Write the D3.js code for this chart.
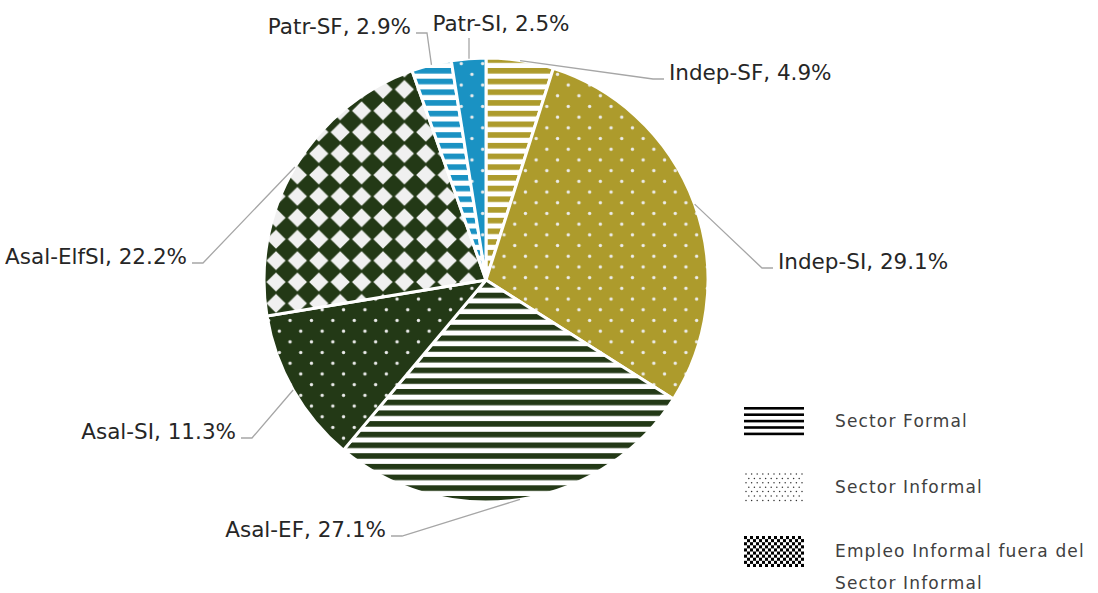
<!DOCTYPE html>
<html><head><meta charset="utf-8">
<script src="https://cdn.jsdelivr.net/npm/d3@7"></script>
<style>
html,body{margin:0;padding:0;background:#fff;}
svg{display:block;}
</style></head>
<body>
<svg id="chart" width="1098" height="593"></svg>
<script>
// ---- data ----
const categories = ["Indep-SF", "Indep-SI", "Asal-EF", "Asal-SI", "Asal-ElfSI", "Patr-SF", "Patr-SI"];
const values = [4.9, 29.1, 27.1, 11.3, 22.2, 2.9, 2.5];
const sectorType = ["formal", "informal", "formal", "informal", "fuera", "formal", "informal"];
const groupColor = ["olive", "olive", "green", "green", "green", "blue", "blue"];
const legendLabels = ["Sector Formal", "Sector Informal", ["Empleo Informal fuera del", "Sector Informal"]];

// ---- styles / layout ----
const palette = {olive: "#ad9b2c", green: "#233916", blue: "#1a92c3"};
const W = 1098, H = 593, cx = 486, cy = 280, R = 222;
const FONT = "'DejaVu Sans', sans-serif";
// elbow points for leader lines (layout only)
const labelLayout = [
  {ex: 653, ey: 79, side: "right"},
  {ex: 762, ey: 268, side: "right"},
  {ex: 402, ey: 536, side: "left"},
  {ex: 252, ey: 438, side: "left"},
  {ex: 203, ey: 263, side: "left"},
  {ex: 427, ey: 33, side: "left"},
  {ex: 469, ey: 38, side: "top", tx: 501, ty: 31}
];

const svg = d3.select("#chart");
const defs = svg.append("defs");
const P = 10.7; // pattern period

function stripes(id, color) {
  const p = defs.append("pattern").attr("id", id).attr("patternUnits", "userSpaceOnUse")
    .attr("width", 20).attr("height", P).attr("y", 2);
  p.append("rect").attr("width", 20).attr("height", P).attr("fill", "#fff");
  p.append("rect").attr("width", 20).attr("height", 5.6).attr("fill", color);
}
function dots(id, color) {
  const p = defs.append("pattern").attr("id", id).attr("patternUnits", "userSpaceOnUse")
    .attr("width", 2 * P).attr("height", 2 * P).attr("x", 2).attr("y", 3);
  p.append("rect").attr("width", 2 * P).attr("height", 2 * P).attr("fill", color);
  [[P / 2, P / 2], [P * 1.5, P * 1.5]].forEach(([x, y]) =>
    p.append("circle").attr("cx", x).attr("cy", y).attr("r", 1.7).attr("fill", "#ececec"));
}
function diamonds(id, color) {
  const S = 2 * P;
  const p = defs.append("pattern").attr("id", id).attr("patternUnits", "userSpaceOnUse")
    .attr("width", S).attr("height", S).attr("x", 4).attr("y", 2);
  p.append("rect").attr("width", S).attr("height", S).attr("fill", color);
  const d = 9.6;
  [[0, 0], [S, 0], [0, S], [S, S]].forEach(([x, y]) =>
    p.append("path").attr("d", `M${x},${y - d}L${x + d},${y}L${x},${y + d}L${x - d},${y}Z`).attr("fill", "#f0f0f0"));
}
categories.forEach((c, i) => {
  const id = "pat" + i, col = palette[groupColor[i]];
  if (sectorType[i] === "formal") stripes(id, col);
  else if (sectorType[i] === "informal") dots(id, col);
  else diamonds(id, col);
});

// ---- pie ----
const pie = d3.pie().sort(null).value(d => d.v);
const arcs = pie(categories.map((c, i) => ({c, v: values[i], i})));
const arc = d3.arc().innerRadius(0).outerRadius(R);
const g = svg.append("g").attr("transform", `translate(${cx},${cy})`);
g.selectAll("path.slice").data(arcs).join("path").attr("class", "slice")
  .attr("d", arc).attr("fill", d => `url(#pat${d.data.i})`)
  .attr("stroke", "#fff").attr("stroke-width", 3).attr("stroke-linejoin", "round");

// ---- labels with leader lines ----
const lab = svg.append("g");
arcs.forEach((a, i) => {
  const m = (a.startAngle + a.endAngle) / 2;
  const sx = cx + R * Math.sin(m), sy = cy - R * Math.cos(m);
  const L = labelLayout[i];
  let pts = [[sx, sy], [L.ex, L.ey]];
  let tx, ty, anchor;
  if (L.side === "right") { pts.push([L.ex + 11, L.ey]); tx = L.ex + 16; ty = L.ey + 1; anchor = "start"; }
  else if (L.side === "left") { pts.push([L.ex - 11, L.ey]); tx = L.ex - 16; ty = L.ey + 1; anchor = "end"; }
  else { pts = [[L.ex, sy], [L.ex, L.ey]]; tx = L.tx; ty = L.ty; anchor = "middle"; }
  lab.append("path").attr("d", d3.line()(pts)).attr("fill", "none")
    .attr("stroke", "#a6a6a6").attr("stroke-width", 1.3);
  lab.append("text").attr("x", tx).attr("y", ty).attr("text-anchor", anchor)
    .attr("font-family", FONT).attr("font-size", 21.5).attr("fill", "#262626")
    .text(`${categories[i]}, ${d3.format(".1f")(values[i])}%`);
});

// ---- legend ----
const lg = svg.append("g");
const lx = 744, lw = 60, lh = 30;
const legY = [406, 472, 536];
// formal stripes swatch
for (let k = 0; k < 5; k++) lg.append("rect").attr("x", lx).attr("y", legY[0] + 1 + k * 6.4).attr("width", lw).attr("height", 2.6).attr("fill", "#000");
// informal dots swatch
for (let r = 0; r < 7; r++) for (let c = 0; c < 11; c++) {
  const x = lx + 2 + c * 5.6 + (r % 2 ? 2.8 : 0);
  if (x > lx + lw) continue;
  lg.append("circle").attr("cx", x).attr("cy", legY[1] + 2 + r * 4.4).attr("r", 0.75).attr("fill", "#333");
}
// fuera checker swatch
for (let r = 0; r < 10; r++) for (let c = 0; c < 20; c++) {
  if ((r + c) % 2) continue;
  lg.append("rect").attr("x", lx + c * 3).attr("y", legY[2] + r * 3.1).attr("width", 3).attr("height", 3.1).attr("fill", "#000");
}
const legText = [[legendLabels[0], 427], [legendLabels[1], 493], [legendLabels[2][0], 557], [legendLabels[2][1], 589]];
legText.forEach(([t, y]) => lg.append("text").attr("x", 835).attr("y", y)
  .attr("font-family", FONT).attr("font-size", 17).attr("letter-spacing", 1.15)
  .attr("fill", "#404040").text(t));
</script>
</body></html>
